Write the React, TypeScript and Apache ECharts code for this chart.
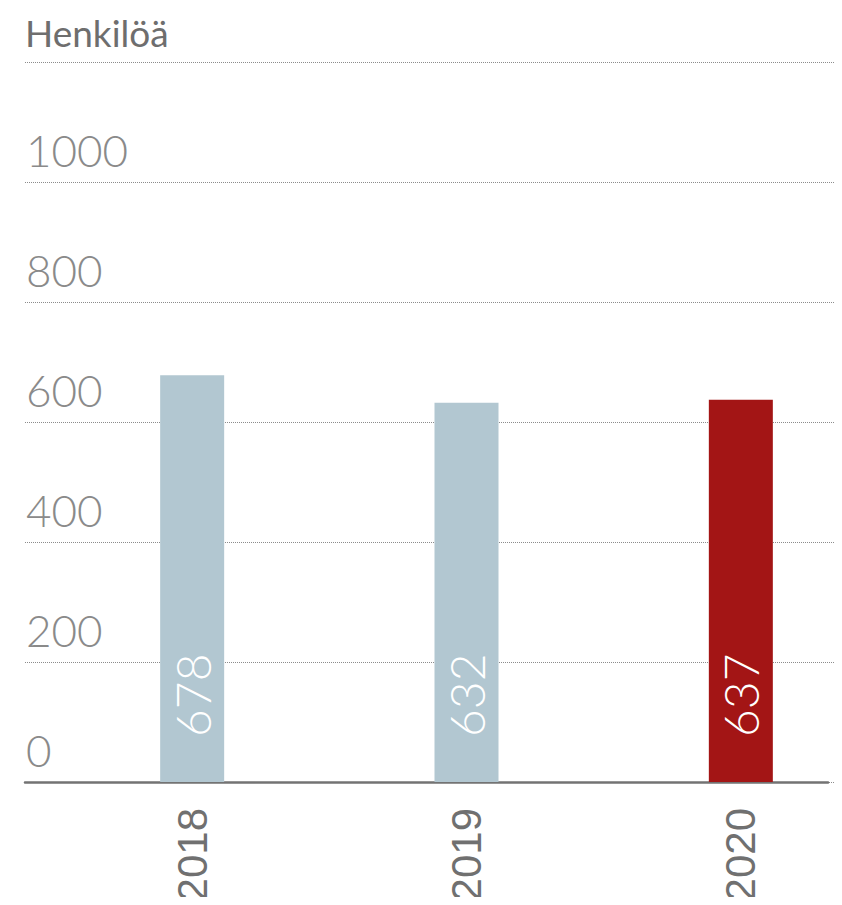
import React, { useEffect, useRef } from "react";
import * as echarts from "echarts";

const categories = ["2018", "2019", "2020"];
const values = [678, 632, 637];
const barColors = ["#b2c7d1", "#b2c7d1", "#a31515"];
const yTicks = { min: 0, max: 1200, interval: 200 };
const unitLabel = "Henkilöä";

export default function App() {
  const ref = useRef<HTMLDivElement>(null);
  useEffect(() => {
    const chart = echarts.init(ref.current!, null, { renderer: "svg" });
    const common = { top: 62, bottom: 123, containLabel: false, outerBoundsMode: "none" };
    const grids = [
      { left: 25, right: 2, ...common },
      { left: 55, right: -36, ...common },
      { left: 25, right: 14, ...common },
    ];
    chart.setOption({
      animation: false,
      title: {
        text: unitLabel,
        left: 25,
        top: 14,
        padding: 0,
        textStyle: { fontFamily: "Lato", fontWeight: 400, fontSize: 37, color: "#6e6e6e" },
      },
      grid: grids,
      xAxis: [
        { type: "value", gridIndex: 0, show: false, min: 0, max: 1 },
        {
          type: "category",
          gridIndex: 1,
          data: categories,
          axisLine: { show: false },
          axisTick: { show: false },
          axisLabel: {
            rotate: 90,
            margin: 26,
            fontFamily: "'Liberation Sans', Arial, sans-serif",
            fontSize: 42,
            color: "#707070",
          },
        },
        {
          type: "value",
          gridIndex: 2,
          min: 0,
          max: 1,
          axisLine: { show: true, lineStyle: { color: "#737373", width: 2.5 } },
          axisTick: { show: false },
          axisLabel: { show: false },
          splitLine: { show: false },
        },
      ],
      yAxis: [
        {
          type: "value",
          gridIndex: 0,
          ...yTicks,
          axisLine: { show: false },
          axisTick: { show: false },
          splitLine: { show: true, lineStyle: { type: "dotted", color: "#8c8c8c", width: 1 } },
          axisLabel: {
            inside: true,
            margin: 1,
            showMaxLabel: false,
            formatter: (v: number) => String(v),
            verticalAlign: "bottom",
            padding: [0, 0, 10, 0],
            fontFamily: "Lato",
            fontWeight: 300,
            fontSize: 44,
            color: "#8a8a8a",
          },
        },
        { type: "value", gridIndex: 1, ...yTicks, show: false, splitLine: { show: false } },
        { type: "value", gridIndex: 2, ...yTicks, show: false, splitLine: { show: false } },
      ],
      series: [
        {
          type: "bar",
          xAxisIndex: 1,
          yAxisIndex: 1,
          barWidth: 64,
          data: values.map((v, i) => ({ value: v, itemStyle: { color: barColors[i] } })),
          label: {
            show: true,
            position: "insideBottom",
            rotate: 90,
            align: "left",
            verticalAlign: "middle",
            distance: 45,
            fontFamily: "Lato",
            fontWeight: 300,
            fontSize: 48,
            color: "#ffffff",
          },
        },
      ],
    });
    return () => chart.dispose();
  }, []);
  return <div ref={ref} style={{ width: 842, height: 905, margin: -8 }} />;
}
